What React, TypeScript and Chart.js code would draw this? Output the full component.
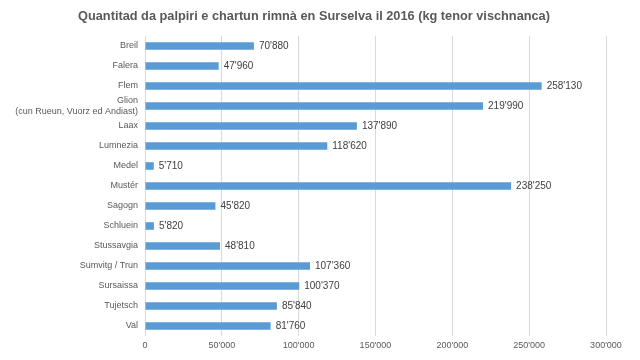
import React, { useEffect, useRef } from "react";
import { Chart, registerables } from "chart.js";

Chart.register(...registerables);

const titleText =
  "Quantitad da palpiri e chartun rimnà en Surselva il 2016 (kg tenor vischnanca)";

const categories: (string | string[])[] = [
  "Breil",
  "Falera",
  "Flem",
  ["Glion", "(cun Rueun, Vuorz ed Andiast)"],
  "Laax",
  "Lumnezia",
  "Medel",
  "Mustér",
  "Sagogn",
  "Schluein",
  "Stussavgia",
  "Sumvitg / Trun",
  "Sursaissa",
  "Tujetsch",
  "Val",
];

const values: number[] = [
  70880, 47960, 258130, 219990, 137890, 118620, 5710, 238250, 45820, 5820,
  48810, 107360, 100370, 85840, 81760,
];

const xTicks: number[] = [0, 50000, 100000, 150000, 200000, 250000, 300000];

const fmt = (v: number) =>
  String(Math.round(v)).replace(/\B(?=(\d{3})+(?!\d))/g, "'");

const FONT = "'Liberation Sans', Arial, sans-serif";

const dataLabels = {
  id: "dataLabels",
  afterDatasetsDraw(chart: any) {
    const ctx = chart.ctx;
    const meta = chart.getDatasetMeta(0);
    ctx.save();
    ctx.font = `10px ${FONT}`;
    ctx.fillStyle = "#404040";
    ctx.textAlign = "left";
    ctx.textBaseline = "middle";
    meta.data.forEach((bar: any, i: number) => {
      ctx.fillText(fmt(values[i]), bar.x + 5, bar.y + 0.5);
    });
    ctx.restore();
  },
};

const titlePlugin = {
  id: "customTitle",
  afterDraw(chart: any) {
    const ctx = chart.ctx;
    ctx.save();
    ctx.font = `bold 12.75px ${FONT}`;
    ctx.fillStyle = "#595959";
    ctx.textAlign = "center";
    ctx.textBaseline = "middle";
    ctx.fillText(titleText, 314, 16);
    ctx.restore();
  },
};

export default function App() {
  const ref = useRef<HTMLCanvasElement | null>(null);
  useEffect(() => {
    if (!ref.current) return;
    const chart = new Chart(ref.current, {
      type: "bar",
      data: {
        labels: categories,
        datasets: [
          {
            data: values,
            backgroundColor: "#5b9bd5",
            barPercentage: 0.38,
            categoryPercentage: 1,
          },
        ],
      },
      plugins: [dataLabels, titlePlugin],
      options: {
        indexAxis: "y",
        animation: false,
        responsive: false,
        maintainAspectRatio: false,
        layout: { padding: { left: 0, right: 34, top: 36, bottom: 0 } },
        plugins: {
          legend: { display: false },
          tooltip: { enabled: false },
          title: { display: false },
        },
        scales: {
          x: {
            type: "linear",
            min: 0,
            max: 300000,
            afterBuildTicks: (scale: any) => {
              scale.ticks = xTicks.map((v) => ({ value: v }));
            },
            afterFit: (scale: any) => {
              scale.height = 24;
            },
            grid: { color: "#d9d9d9", drawTicks: false },
            border: { display: false },
            ticks: {
              color: "#595959",
              font: { family: FONT, size: 9 },
              padding: 4,
              callback: (v: any) => fmt(Number(v)),
              maxRotation: 0,
            },
          },
          y: {
            afterFit: (scale: any) => {
              scale.width = 145;
            },
            grid: { display: false, drawTicks: false },
            border: { display: false },
            ticks: {
              color: "#595959",
              font: { family: FONT, size: 9 },
              padding: 7,
              autoSkip: false,
            },
          },
        },
      },
    });
    return () => chart.destroy();
  }, []);
  return (
    <div style={{ position: "absolute", left: 0, top: 0, width: 640, height: 360, background: "#fff" }}>
      <canvas ref={ref} width={640} height={360} />
    </div>
  );
}
